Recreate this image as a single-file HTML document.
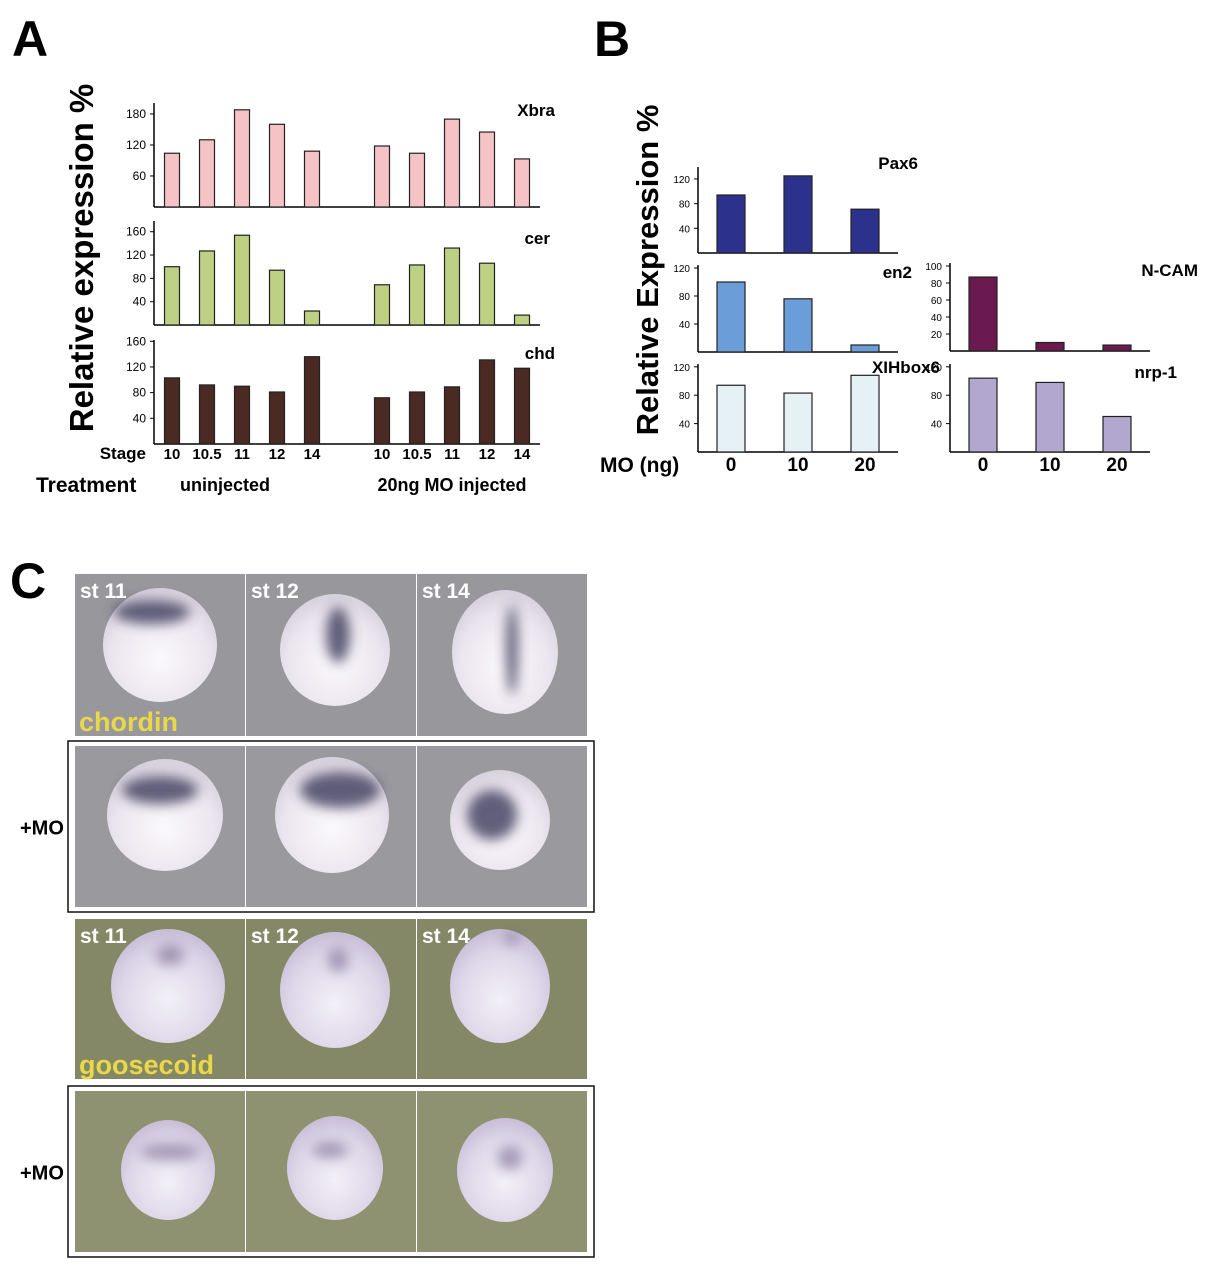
<!DOCTYPE html>
<html><head><meta charset="utf-8"><style>
html,body{margin:0;padding:0;background:#fff}
svg{display:block;font-family:"Liberation Sans",Arial,sans-serif}
</style></head><body>
<svg id="fig" width="1208" height="1280" viewBox="0 0 1208 1280">
<defs>
<radialGradient id="eg" cx="50%" cy="62%" r="60%"><stop offset="0" stop-color="#fbf9fc"/><stop offset="0.7" stop-color="#ebe6ee"/><stop offset="1" stop-color="#d8d2de"/></radialGradient>
<radialGradient id="eg2" cx="50%" cy="62%" r="60%"><stop offset="0" stop-color="#f3f0f8"/><stop offset="0.7" stop-color="#ddd6e8"/><stop offset="1" stop-color="#c9c0d8"/></radialGradient>
<filter id="bl" x="-100%" y="-100%" width="300%" height="300%"><feGaussianBlur stdDeviation="6"/></filter>
</defs>
<g id="panelA">
<text x="12" y="56" font-size="50" font-weight="bold">A</text>
<text transform="translate(93,258) rotate(-90)" text-anchor="middle" font-size="33" font-weight="bold">Relative expression %</text>
<text x="146" y="459" text-anchor="end" font-size="17" font-weight="bold">Stage</text>
<text x="36" y="492" font-size="21" font-weight="bold">Treatment</text>
<text x="225" y="491" text-anchor="middle" font-size="18" font-weight="bold">uninjected</text>
<text x="452" y="491" text-anchor="middle" font-size="18" font-weight="bold">20ng MO injected</text>
</g>
<g id="panelB">
<text x="594" y="56" font-size="50" font-weight="bold">B</text>
<text transform="translate(658,270) rotate(-90)" text-anchor="middle" font-size="31" font-weight="bold">Relative Expression %</text>
<text x="600" y="472" font-size="21" font-weight="bold">MO (ng)</text>
</g>
<g id="panelC">
<text x="10" y="598" font-size="50" font-weight="bold">C</text>
</g>
</svg>
<script>
// ---- Panel A data ----
const stagesA = ["10","10.5","11","12","14"];
const xbraUninj = [104,130,188,160,108];
const xbraMO = [118,104,170,145,93];
const cerUninj = [100,127,154,94,24];
const cerMO = [69,103,132,106,17];
const chdUninj = [103,92,90,81,136];
const chdMO = [72,81,89,131,118];
const xbraTicks = [60,120,180];
const cerTicks = [40,80,120,160];
const chdTicks = [40,80,120,160];
// ---- Panel B data ----
const doses = ["0","10","20"];
const pax6 = [94,125,71];
const en2 = [100,76,10];
const xihbox6 = [94,83,108];
const ncam = [87,10,7];
const nrp1 = [104,98,50];
const ticks120 = [40,80,120];
const ncamTicks = [20,40,60,80,100];

const NS="http://www.w3.org/2000/svg";
const svg=document.getElementById('fig');
function mk(tag,attrs,parent){const e=document.createElementNS(NS,tag);for(const k in attrs)e.setAttribute(k,attrs[k]);(parent||svg).appendChild(e);return e;}

function panel(o){
  const g=mk('g',{});
  
  
  const y=v=>o.base-v*o.scale;
  const ya=mk('line',{x1:o.ax,y1:o.top,x2:o.ax,y2:o.base,stroke:'#000','stroke-width':1.5},g);
  
  
  const xa=mk('line',{x1:o.ax,y1:o.base,x2:o.xend,y2:o.base,stroke:'#000','stroke-width':1.5},g);
  
  
  o.ticks.forEach(t=>{
    mk('line',{x1:o.ax-4,y1:y(t),x2:o.ax,y2:y(t),stroke:'#000','stroke-width':1},g);
    const tl=mk('text',{x:o.ax-8,y:y(t)+4,'text-anchor':'end','font-size':o.tfs||12},g);
    tl.textContent=t;
    
    
  });
  o.groups.forEach(gr=>{
    gr.vals.forEach((v,i)=>{
      const cx=gr.x0+i*o.step;
      const r=mk('rect',{x:cx-o.bw/2,y:y(v),width:o.bw,height:v*o.scale,fill:o.color,stroke:'#222','stroke-width':1.2},g);
      
      
    });
  });
  const ti=mk('text',{x:o.tx,y:o.ty,'text-anchor':'end','font-size':17,'font-weight':'bold'},g);
  ti.textContent=o.name;
  
  
  return y;
}
panel({name:'Xbra',ax:154,top:103,base:207,xend:540,scale:0.517,ticks:xbraTicks,bw:15,step:35,color:'#f5c3c6',
  groups:[{x0:172,vals:xbraUninj},{x0:382,vals:xbraMO}],tx:555,ty:116});
panel({name:'cer',ax:154,top:221,base:325,xend:540,scale:0.583,ticks:cerTicks,bw:15,step:35,color:'#bdd083',
  groups:[{x0:172,vals:cerUninj},{x0:382,vals:cerMO}],tx:550,ty:244});
panel({name:'chd',ax:154,top:340,base:444,xend:540,scale:0.642,ticks:chdTicks,bw:15,step:35,color:'#4a2a22',
  groups:[{x0:172,vals:chdUninj},{x0:382,vals:chdMO}],tx:555,ty:359});
[172,382].forEach(x0=>stagesA.forEach((s,i)=>{
  const t=mk('text',{x:x0+i*35,y:459,'text-anchor':'middle','font-size':15,'font-weight':'bold'});
  t.textContent=s;
  
  
}));
panel({name:'Pax6',ax:698,top:167,base:253,xend:898,scale:0.617,ticks:ticks120,tfs:10,bw:28,step:67,color:'#2c318c',
  groups:[{x0:731,vals:pax6}],tx:918,ty:169});
panel({name:'en2',ax:698,top:265,base:352,xend:898,scale:0.7,ticks:ticks120,tfs:10,bw:28,step:67,color:'#6b9dd9',
  groups:[{x0:731,vals:en2}],tx:912,ty:278});
panel({name:'XIHbox6',ax:698,top:364,base:452,xend:898,scale:0.71,ticks:ticks120,tfs:10,bw:28,step:67,color:'#e5f1f4',
  groups:[{x0:731,vals:xihbox6}],tx:940,ty:373});
panel({name:'N-CAM',ax:950,top:263,base:351,xend:1150,scale:0.85,ticks:ncamTicks,tfs:10,bw:28,step:67,color:'#6a1a4e',
  groups:[{x0:983,vals:ncam}],tx:1198,ty:276});
panel({name:'nrp-1',ax:950,top:364,base:452,xend:1150,scale:0.71,ticks:ticks120,tfs:10,bw:28,step:67,color:'#b2a7cf',
  groups:[{x0:983,vals:nrp1}],tx:1177,ty:378});
[731,983].forEach(x0=>doses.forEach((d,i)=>{
  const t=mk('text',{x:x0+i*67,y:471,'text-anchor':'middle','font-size':19,'font-weight':'bold'});
  t.textContent=d;
  
  
}));

// Panel C photos (approximation)
const rows=[
 {y:574,h:162,bg:'#98979c',egg:'url(#eg)',labels:['st 11','st 12','st 14'],gene:'chordin',mo:false},
 {y:746,h:161,bg:'#9a999e',egg:'url(#eg)',labels:null,mo:true},
 {y:919,h:160,bg:'#858866',egg:'url(#eg2)',labels:['st 11','st 12','st 14'],gene:'goosecoid',mo:false},
 {y:1091,h:161,bg:'#8f9271',egg:'url(#eg2)',labels:null,mo:true}];
const eggs=[
 [[160,645,57,57],[335,650,55,56],[505,652,53,62]],
 [[165,815,58,56],[332,815,57,58],[500,820,50,50]],
 [[168,986,57,57],[335,990,55,58],[500,986,50,57]],
 [[168,1170,47,50],[335,1168,48,52],[505,1170,48,52]]];
const stains=[
 [[152,612,38,12],[338,635,12,28],[512,650,6,45]],
 [[160,790,38,14],[340,790,40,18],[492,815,25,25]],
 [[170,955,14,10],[338,960,10,12],[512,938,8,6]],
 [[170,1152,30,8],[330,1150,18,8],[510,1158,12,12]]];
const pc=document.getElementById('panelC');
rows.forEach((r,ri)=>{
  if(r.mo){
    const b=mk('rect',{x:68,y:r.y-5,width:526,height:r.h+10,fill:'none',stroke:'#111','stroke-width':1.5},pc);
    
    
    const t=mk('text',{x:20,y:r.y+r.h/2+8,'font-size':20,'font-weight':'bold'},pc);
    t.textContent='+MO';
    
    
  }
  for(let c=0;c<3;c++){
    const x=75+c*171;
    const cell=mk('rect',{x:x,y:r.y,width:170,height:r.h,fill:r.bg},pc);
    
    
    const e=eggs[ri][c];
    mk('ellipse',{cx:e[0],cy:e[1],rx:e[2],ry:e[3],fill:r.egg},pc);
    const s=stains[ri][c];
    mk('ellipse',{cx:s[0],cy:s[1],rx:s[2],ry:s[3],fill:ri<2?'#3c3a5c':'#6e6088',opacity:ri<2?0.8:0.55,filter:'url(#bl)'},pc);
    if(r.labels){
      const t=mk('text',{x:x+5,y:r.y+24,'font-size':21,'font-weight':'bold',fill:'#fff'},pc);
      t.textContent=r.labels[c];
      
      
    }
  }
  if(r.gene){
    const t=mk('text',{x:79,y:r.y+r.h-5,'font-size':27,'font-weight':'bold',fill:'#e8d84a'},pc);
    t.textContent=r.gene;
    
    
  }
});
</script>
</body></html>
